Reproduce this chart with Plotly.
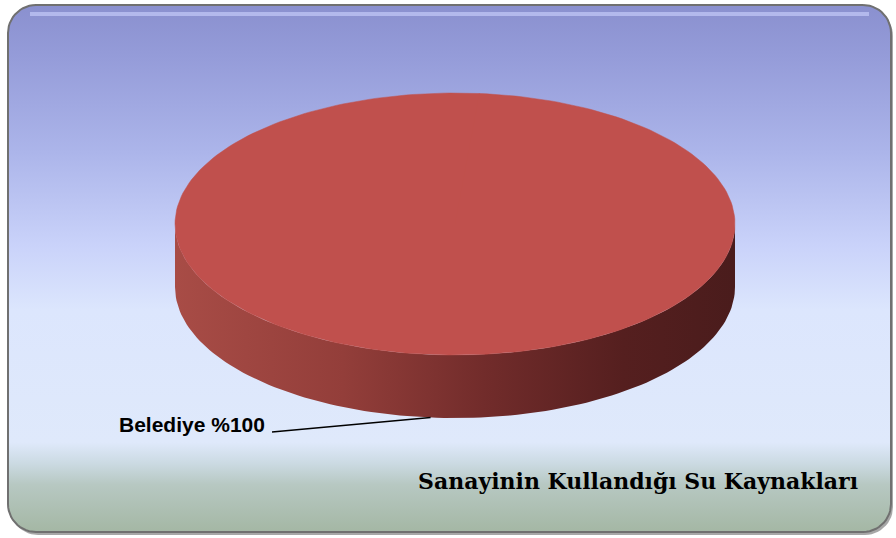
import numpy as np
import plotly.graph_objects as go

# ---- data ----
labels = ["Belediye"]
values = [100]
slice_colors = ["#c0504d"]
title_text = "Sanayinin Kullandığı Su Kaynakları"

W, H = 896, 538

fig = go.Figure()


def rounded_rect(x0, y0, x1, y1, r, n=14):
    pts = []
    corners = [(x1 - r, y0 + r, -90, 0), (x1 - r, y1 - r, 0, 90),
               (x0 + r, y1 - r, 90, 180), (x0 + r, y0 + r, 180, 270)]
    for cx, cy, a0, a1 in corners:
        for a in np.linspace(np.radians(a0), np.radians(a1), n):
            pts.append((cx + r * np.cos(a), cy + r * np.sin(a)))
    pts.append(pts[0])
    xs, ys = zip(*pts)
    return list(xs), list(ys)


# ---- frame (decoration) ----
fx0, fy0, fx1, fy1, fr = 8, 5, 891, 532, 28
sx, sy = rounded_rect(fx0 + 2, fy0 + 3, fx1 + 2, fy1 + 3, fr)
fig.add_trace(go.Scatter(x=sx, y=sy, mode="lines", fill="toself",
                         fillcolor="rgba(60,60,60,0.45)", line=dict(width=0),
                         hoverinfo="skip", showlegend=False))
bx, by = rounded_rect(fx0, fy0, fx1, fy1, fr)
bg_scale = [
    [0.0, "#8a90cf"], [0.10, "#959cd9"], [0.28, "#acb5ea"], [0.46, "#cad3fa"],
    [0.58, "#dce6fd"], [0.83, "#dfe9fb"], [0.87, "#cbdae2"], [0.91, "#b7c8c2"],
    [1.0, "#a4b7a4"],
]
fig.add_trace(go.Scatter(x=bx, y=by, mode="lines", fill="toself",
                         fillgradient=dict(type="vertical", colorscale=bg_scale,
                                           start=fy0, stop=fy1),
                         line=dict(color="#707070", width=2),
                         hoverinfo="skip", showlegend=False))
# top bevel highlight
hx = [fx0 + fr - 6, fx1 - fr + 6]
fig.add_trace(go.Scatter(x=hx, y=[fy0 + 9, fy0 + 9], mode="lines",
                         line=dict(color="rgba(200,206,250,0.65)", width=4),
                         hoverinfo="skip", showlegend=False))

# ---- 3D pie geometry ----
cx, cy, rx, ry, depth = 455, 224, 280, 131, 63
rotation = np.radians(-85)  # first slice starts near 12 o'clock, clockwise
total = float(sum(values))

side_scale = [[0.0, "#a84c46"], [0.3, "#933e3a"], [0.55, "#722c2b"],
              [0.8, "#551f1f"], [1.0, "#4a1c1c"]]

angles = []
a = rotation
for v in values:
    span = 2 * np.pi * v / total
    angles.append((a, a + span))
    a += span

# side walls (front half only, angles in [0, pi] in screen coordinates)
for (a0, a1), col in zip(angles, slice_colors):
    for k in range(-1, 2):
        lo = max(a0, 0 + 2 * np.pi * k)
        hi = min(a1, np.pi + 2 * np.pi * k)
        if hi <= lo:
            continue
        t = np.linspace(lo, hi, 120)
        xt = cx + rx * np.cos(t)
        yt = cy + ry * np.sin(t)
        xs = list(xt) + list(xt[::-1]) + [xt[0]]
        ys = list(yt) + list((yt + depth)[::-1]) + [yt[0]]
        fig.add_trace(go.Scatter(x=xs, y=ys, mode="lines", fill="toself",
                                 fillgradient=dict(type="horizontal",
                                                   colorscale=side_scale,
                                                   start=cx - rx, stop=cx + rx),
                                 line=dict(width=0), hoverinfo="skip",
                                 showlegend=False))

# top faces
for (a0, a1), col, lab, v in zip(angles, slice_colors, labels, values):
    t = np.linspace(a0, a1, 240)
    xs = [cx] + list(cx + rx * np.cos(t)) + [cx]
    ys = [cy] + list(cy + ry * np.sin(t)) + [cy]
    fig.add_trace(go.Scatter(x=xs, y=ys, mode="lines", fill="toself",
                             fillcolor=col, line=dict(color=col, width=0.5),
                             name=lab, hoverinfo="skip", showlegend=False))

# ---- data label with leader line ----
for (a0, a1), lab, v in zip(angles, labels, values):
    mid = (a0 + a1) / 2
    axp = cx + rx * np.cos(mid)
    ayp = cy + ry * np.sin(mid) + depth
    lx, ly = 267, 424
    fig.add_trace(go.Scatter(x=[lx + 5, axp], y=[ly + 8, ayp], mode="lines",
                             line=dict(color="black", width=1.5),
                             hoverinfo="skip", showlegend=False))
    fig.add_annotation(x=lx, y=ly, xref="x", yref="y", xanchor="right",
                       yanchor="middle", showarrow=False,
                       text=f"<b>{lab} %{round(100 * v / total)}</b>",
                       font=dict(family="Liberation Sans, Arial", size=21,
                                 color="black"))

# ---- title ----
fig.add_annotation(x=860, y=481, xref="x", yref="y", xanchor="right",
                   yanchor="middle", showarrow=False,
                   text=f"<b>{title_text}</b>",
                   font=dict(family="DejaVu Serif", size=22, color="black"))

fig.update_layout(
    width=W, height=H, margin=dict(l=0, r=0, t=0, b=0),
    paper_bgcolor="white", plot_bgcolor="rgba(0,0,0,0)",
    xaxis=dict(range=[0, W], visible=False, fixedrange=True),
    yaxis=dict(range=[H, 0], visible=False, fixedrange=True),
    showlegend=False,
)

fig.write_html("out.html", config={"displayModeBar": False},
               post_script="document.body.style.margin='0';document.body.style.padding='0';")
